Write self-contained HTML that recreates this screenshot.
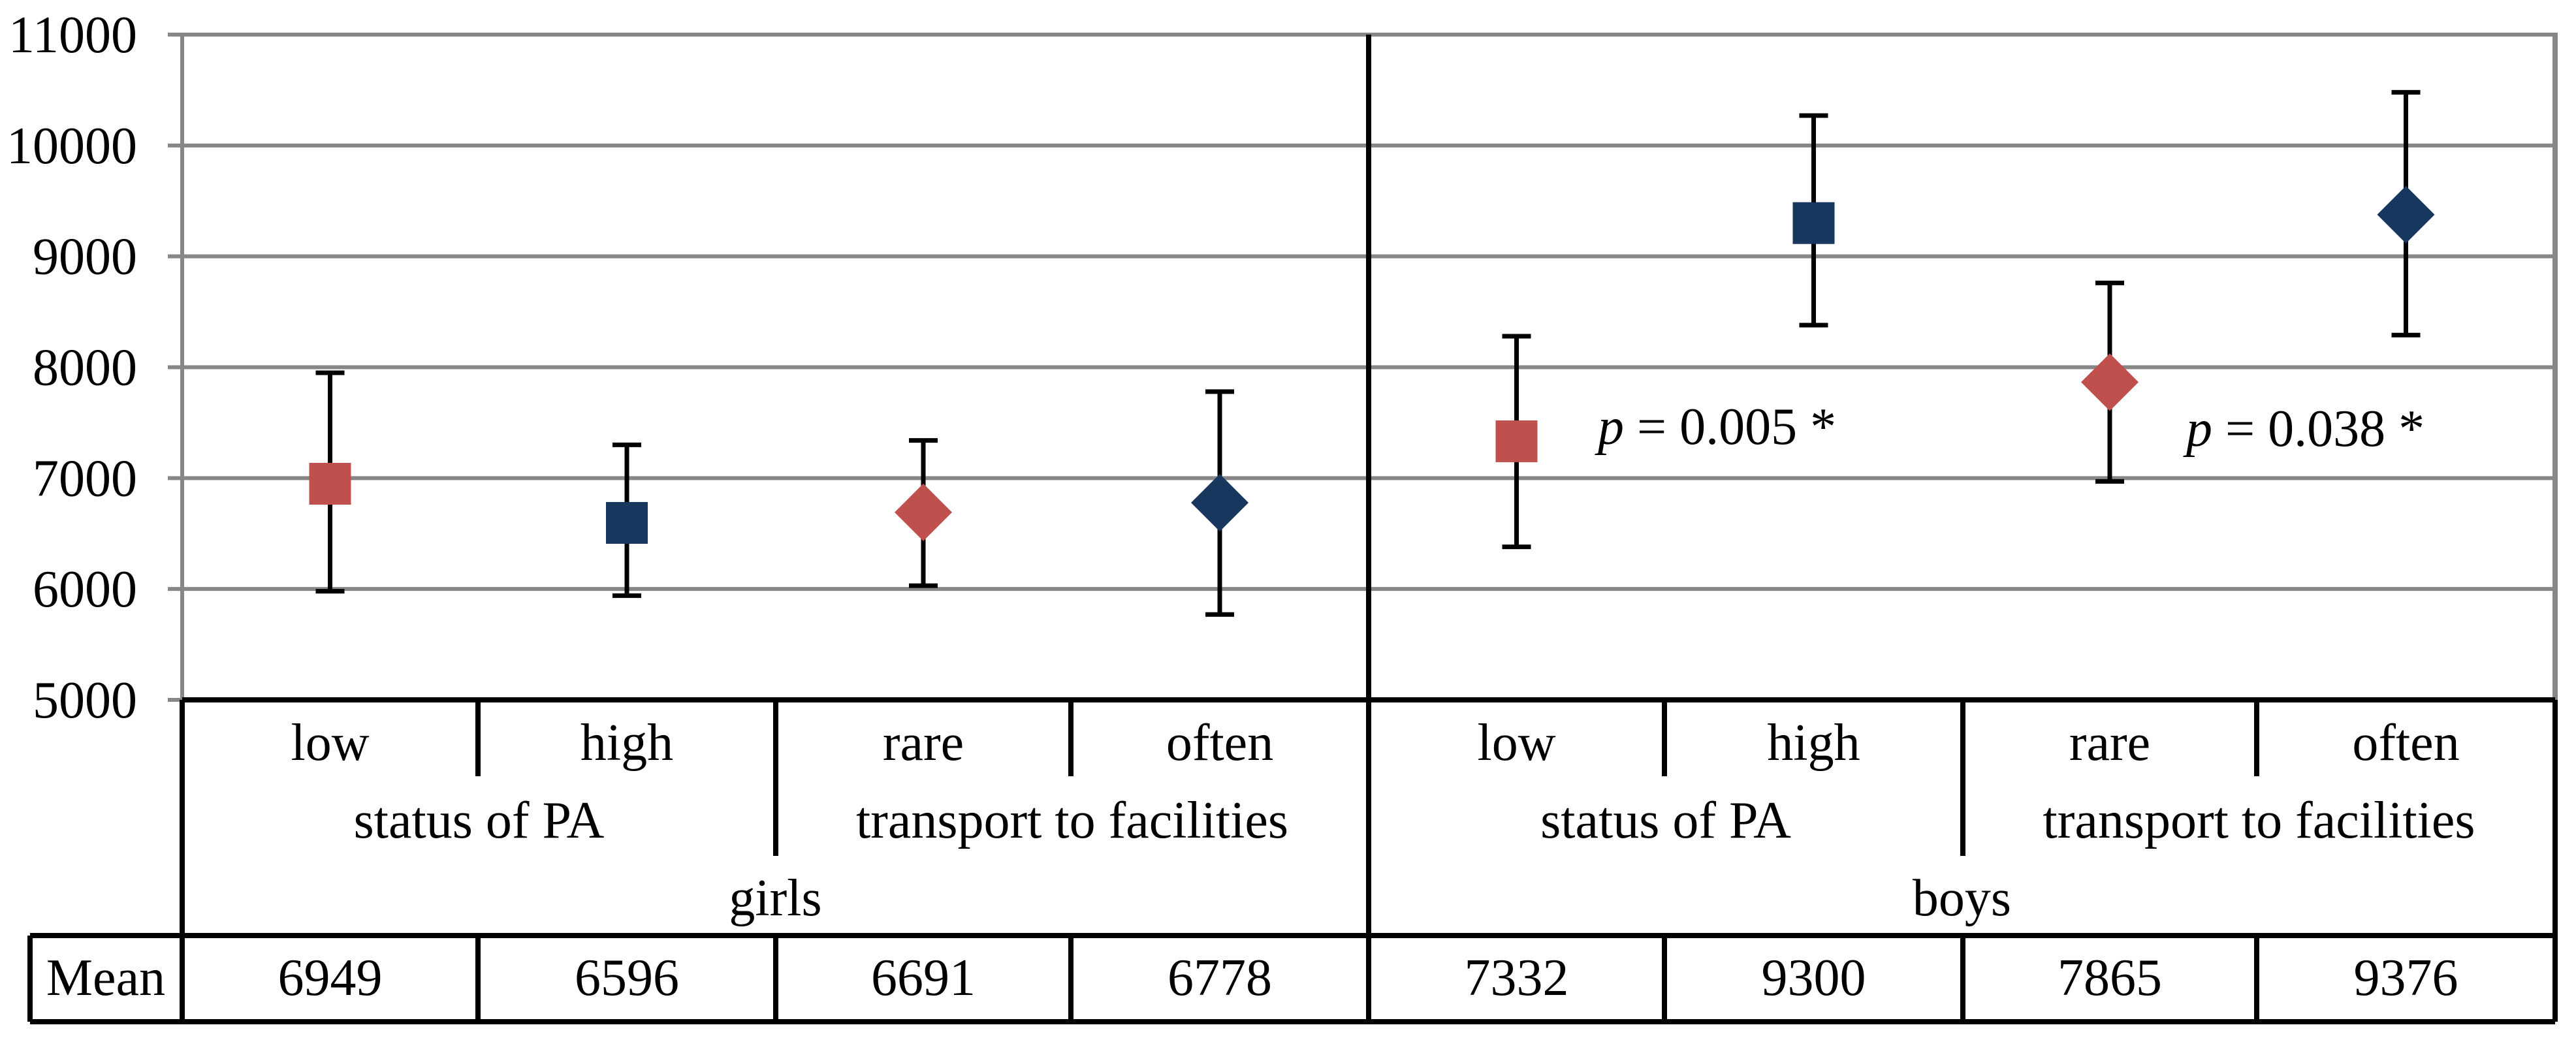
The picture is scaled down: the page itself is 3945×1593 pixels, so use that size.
<!DOCTYPE html>
<html><head><meta charset="utf-8"><style>
html,body{margin:0;padding:0;background:#fff;}
svg{display:block;}
text{font-family:"Liberation Serif",serif;fill:#000;}
</style></head><body>
<svg id="chart" width="3945" height="1593" viewBox="0 0 3945 1593" xmlns="http://www.w3.org/2000/svg"></svg>
<script>
const categories = ["low","high","rare","often","low","high","rare","often"];
const means = [6949,6596,6691,6778,7332,9300,7865,9376];
const upper = [7950,7300,7340,7780,8280,10270,8760,10480];
const lower = [5980,5940,6030,5770,6380,8380,6970,8290];
const shapes = ["square","square","diamond","diamond","square","square","diamond","diamond"];
const colors = ["#C0504D","#17375E","#C0504D","#17375E","#C0504D","#17375E","#C0504D","#17375E"];
const yTicks = [5000,6000,7000,8000,9000,10000,11000];
const groupLabels = ["status of PA","transport to facilities","status of PA","transport to facilities"];
const genderLabels = ["girls","boys"];
const pLabels = ["0.005","0.038"];

const svg = document.getElementById('chart');
const NS = "http://www.w3.org/2000/svg";
const R = 3913;
const colEdges = [279,732,1188,1640,2096,2549,3006,3456,R];
const FS = 80;
function y(v){ return 1072 - (v-5000)/6000*(1072-53); }
function xc(i){ return (colEdges[i]+colEdges[i+1])/2; }
function el(tag, attrs, parent){
  const e = document.createElementNS(NS, tag);
  for (const k in attrs) e.setAttribute(k, attrs[k]);
  (parent||svg).appendChild(e); return e;
}
function line(x1,y1,x2,y2,stroke,w){ return el('line',{x1,y1,x2,y2,stroke,'stroke-width':w}); }
function txt(x,yy,s,anchor){ const t = el('text',{x,y:yy,'font-size':FS,'text-anchor':anchor||'middle'}); t.textContent = s; return t; }

yTicks.forEach(v=>{
  const g = line(279,y(v),R,y(v),'#878787',6);
  
  
  const tk = line(257,y(v),279,y(v),'#878787',6);
  
  
  const t = txt(210,y(v)+27,String(v),'end');
  
  
});
let a = line(279,53,279,1072,'#878787',6);
 
a = line(R,50,R,1072,'#878787',8);
 

const B='#000', W=8;
[[279,1072,R,1072],[46,1433,R,1433],[46,1565,R,1565],
 [46,1433,46,1565],[279,1072,279,1565],[2096,53,2096,1565],[R,1072,R,1565]].forEach(c=>{
  const l=line(c[0],c[1],c[2],c[3],B,W);
  
  
});
[colEdges[1],colEdges[3],colEdges[5],colEdges[7]].forEach(x=>{
  let l=line(x,1072,x,1189,B,W);
   
  l=line(x,1433,x,1565,B,W);
   
});
[colEdges[2],colEdges[6]].forEach(x=>{
  let l=line(x,1072,x,1311,B,W);
   
  l=line(x,1433,x,1565,B,W);
   
});

categories.forEach((c,i)=>{
  const t=txt(xc(i),1164,c);
  
  
  const m=txt(xc(i),1524,String(means[i]));
  
  
});
groupLabels.forEach((g,i)=>{
  const t=txt((colEdges[2*i]+colEdges[2*i+2])/2,1283,g);
  
  
});
genderLabels.forEach((g,i)=>{
  const t=txt((colEdges[4*i]+colEdges[4*i+4])/2,1402,g);
  
  
});
let mt=txt(162,1524,"Mean");



means.forEach((m,i)=>{
  const x=xc(i);
  const g=el('g',{});
  
  
  el('line',{x1:x,y1:y(upper[i]),x2:x,y2:y(lower[i]),stroke:'#000','stroke-width':7},g);
  el('line',{x1:x-22,y1:y(upper[i]),x2:x+22,y2:y(upper[i]),stroke:'#000','stroke-width':7},g);
  el('line',{x1:x-22,y1:y(lower[i]),x2:x+22,y2:y(lower[i]),stroke:'#000','stroke-width':7},g);
  const cy=y(m);
  if(shapes[i]==='square') el('rect',{x:x-32,y:cy-32,width:64,height:64,fill:colors[i]},g);
  else el('polygon',{points:`${x},${cy-44} ${x+44},${cy} ${x},${cy+44} ${x-44},${cy}`,fill:colors[i]},g);
});

[[2447,680],[3348,683]].forEach((p,i)=>{
  const t=el('text',{x:p[0],y:p[1],'font-size':FS});
  
  
  const it=el('tspan',{'font-style':'italic'},t); it.textContent='p';
  const r=el('tspan',{},t); r.textContent=' = '+pLabels[i]+' *';
});
</script>
</body></html>
